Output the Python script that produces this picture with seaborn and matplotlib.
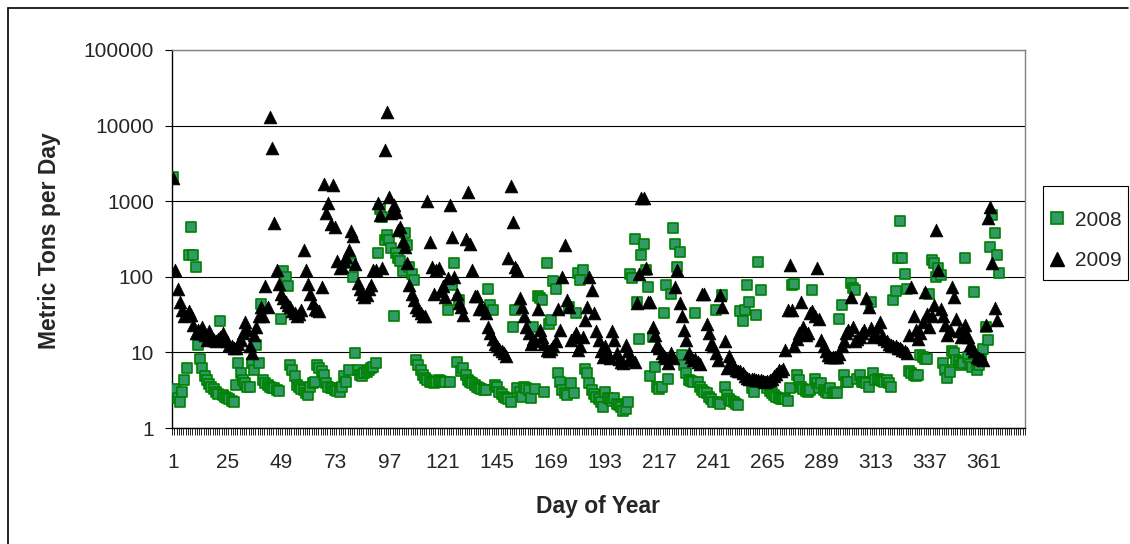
import numpy as np
import pandas as pd
import matplotlib
matplotlib.use("Agg")
import matplotlib.pyplot as plt
from matplotlib.lines import Line2D
from matplotlib.patches import Rectangle
from matplotlib.ticker import FixedLocator, NullFormatter
import seaborn as sns

# ---------------- data (metric tons per day) ----------------
y2008_001_050 = [2100, 3.3, 2.5, 2.2, 3.0, 4.3, 6.2, 195, 460, 195,
                 135, 12.5, 8.3, 6.2, 4.8, 4.3, 3.8, 3.5, 3.3, 3.0,
                 2.8, 26, 2.7, 2.6, 2.5, 2.4, 2.3, 2.2, 3.7, 7.2,
                 5.3, 4.3, 3.9, 3.5, 3.5, 7.2, 5.8, 12.5, 7.2, 44,
                 4.3, 3.9, 3.7, 3.5, 3.4, 3.4, 3.2, 3.1, 28, 120]
y2008_051_100 = [100, 75, 6.8, 5.8, 4.8, 3.7, 3.5, 3.3, 3.2, 2.9,
                 2.7, 3.5, 3.9, 4.0, 6.8, 6.2, 5.6, 5.0, 3.9, 3.5,
                 3.4, 3.4, 3.2, 3.1, 3.0, 3.5, 4.8, 4.1, 5.8, 150,
                 100, 9.7, 5.8, 5.0, 4.8, 5.3, 5.5, 5.8, 6.2, 6.5,
                 7.2, 205, 800, 620, 310, 355, 310, 240, 30, 205]
y2008_101_150 = [175, 160, 120, 375, 265, 135, 110, 90, 7.9, 6.8,
                 5.8, 5.0, 4.6, 4.3, 4.1, 4.0, 3.9, 4.0, 4.3, 4.2,
                 4.1, 4.1, 36, 4.0, 78, 150, 7.5, 50, 5.6, 6.2,
                 5.0, 4.3, 4.1, 3.9, 3.7, 3.5, 3.4, 3.3, 3.2, 3.2,
                 70, 42, 36, 3.7, 3.5, 3.0, 2.8, 2.6, 2.5, 2.4]
y2008_151_200 = [2.2, 22, 36, 3.4, 3.0, 2.6, 3.5, 3.4, 3.2, 2.5,
                 22, 3.3, 55, 52, 50, 3.0, 150, 24, 27, 88,
                 70, 5.3, 4.1, 3.2, 2.9, 2.7, 40, 3.9, 2.9, 33,
                 112, 92, 123, 6.0, 5.3, 3.9, 3.2, 2.8, 2.6, 2.4,
                 2.2, 1.9, 3.0, 2.5, 2.4, 2.3, 2.5, 2.1, 2.0, 1.9]
y2008_201_250 = [1.7, 1.8, 2.2, 110, 95, 320, 47, 15, 195, 275,
                 123, 74, 4.8, 16, 6.5, 3.5, 3.3, 3.5, 33, 78,
                 4.5, 60, 440, 275, 135, 215, 9.2, 6.8, 5.3, 4.3,
                 4.2, 4.1, 33, 4.1, 3.5, 3.2, 3.0, 2.9, 2.6, 2.4,
                 2.2, 36, 2.2, 2.1, 57, 3.5, 2.7, 2.4, 2.3, 2.2]
y2008_251_300 = [2.1, 2.0, 35, 26, 36, 78, 47, 3.4, 3.0, 31,
                 158, 67, 4.0, 3.9, 3.4, 3.1, 2.9, 2.7, 2.6, 2.5,
                 2.4, 2.4, 2.4, 2.3, 3.4, 78, 80, 5.0, 4.3, 3.5,
                 3.3, 3.1, 3.0, 3.2, 67, 4.5, 3.9, 3.4, 3.9, 3.2,
                 3.0, 2.9, 3.4, 2.9, 3.0, 2.9, 28, 42, 5.0, 4.1]
y2008_301_368 = [4.0, 82, 72, 66, 4.5, 5.0, 4.1, 4.0, 3.9, 3.5,
                 46, 5.3, 4.3, 4.5, 4.3, 4.2, 4.0, 4.3, 3.9, 3.5,
                 50, 64, 175, 540, 175, 108, 68, 5.6, 5.3, 5.0,
                 4.8, 5.0, 9.2, 8.8, 8.3, 8.3, 60, 165, 150, 100,
                 130, 105, 7.2, 5.8, 4.6, 5.5, 10.3, 9.7, 7.9, 7.5,
                 6.8, 7.2, 178, 8.8, 7.0, 6.5, 63, 5.8, 6.8, 8.8,
                 11, 22, 14.6, 250, 660, 380, 195, 112]

y2009_001_050 = [2000, 123, 70, 47, 36, 30, 31, 35, 31, 23,
                 18, 20, 18, 22, 17, 14.6, 19, 16, 14.6, 14,
                 15, 16, 18, 15, 14, 12.5, 12, 11.3, 11.3, 13,
                 14.6, 18, 25, 20, 12, 9.7, 17, 22, 30, 40,
                 30, 75, 40, 13000, 5000, 520, 123, 80, 60, 52]
y2009_051_100 = [47, 42, 40, 35, 33, 30, 32, 36, 225, 123,
                 80, 60, 45, 38, 36, 35, 74, 1700, 700, 950,
                 500, 1650, 450, 160, 130, 135, 160, 185, 225, 400,
                 350, 147, 82, 70, 60, 54, 57, 70, 78, 123,
                 123, 940, 660, 130, 4800, 15000, 1150, 700, 900, 720]
y2009_101_150 = [420, 460, 300, 250, 150, 78, 60, 50, 40, 36,
                 33, 30, 30, 1000, 290, 135, 60, 123, 130, 65,
                 75, 54, 95, 890, 340, 100, 60, 45, 40, 31,
                 320, 1330, 275, 123, 55, 55, 38, 40, 38, 33,
                 22, 18, 15, 13, 12, 11, 10.5, 9.7, 9.0, 180]
y2009_151_200 = [1570, 530, 135, 123, 52, 40, 30, 22, 18, 13,
                 15, 14, 38, 20, 16, 13, 10.7, 10.3, 11, 12,
                 14, 38, 20, 100, 260, 50, 40, 14.6, 16, 18,
                 10.7, 12, 16, 27, 40, 100, 67, 33, 19, 14.6,
                 10.3, 8.8, 12, 9.5, 8.5, 19, 14.6, 9.7, 8.3, 7.5]
y2009_201_250 = [7.2, 12.5, 10.3, 8.8, 7.9, 7.5, 45, 110, 1100, 1100,
                 130, 47, 47, 22, 17, 12.5, 11.3, 9.7, 9.0, 8.5,
                 7.2, 9.7, 8.5, 74, 123, 45, 30, 20, 14.6, 9.7,
                 8.8, 7.9, 8.3, 7.5, 7.0, 60, 60, 24, 18, 13,
                 12, 9.7, 7.9, 57, 40, 14, 6.3, 9.0, 7.5, 6.5]
y2009_251_300 = [5.9, 5.7, 5.6, 5.3, 4.8, 4.6, 4.5, 4.5, 4.5, 4.3,
                 4.3, 4.3, 4.2, 4.1, 4.2, 4.3, 4.5, 4.8, 5.2, 5.9,
                 5.6, 6.0, 10.7, 36, 143, 36, 12, 15, 18, 46,
                 22, 17, 18, 33, 35, 30, 130, 28, 14.6, 12,
                 10.3, 9.2, 8.8, 8.8, 8.8, 8.8, 9.5, 12, 14, 18]
y2009_301_367 = [20, 54, 22, 14, 15, 16, 18, 20, 52, 40,
                 21, 16, 18, 22, 25, 16, 15, 14, 13, 12.5,
                 12.2, 12, 11.5, 11.3, 10.8, 10.3, 9.7, 17, 74, 30,
                 20, 15, 18, 25, 63, 32, 22, 30, 42, 415,
                 123, 38, 30, 23, 17, 20, 74, 54, 28, 19,
                 16, 20, 23, 16, 12.5, 11.3, 10.3, 8.8, 8.5, 8.3,
                 7.9, 23, 600, 850, 150, 39, 27]

series_names = ["2008", "2009"]
x_tick_labels = [str(d) for d in range(1, 362, 24)]
y_tick_values = [1, 10, 100, 1000, 10000, 100000]

vals2008 = (y2008_001_050 + y2008_051_100 + y2008_101_150 + y2008_151_200
            + y2008_201_250 + y2008_251_300 + y2008_301_368)
vals2009 = (y2009_001_050 + y2009_051_100 + y2009_101_150 + y2009_151_200
            + y2009_201_250 + y2009_251_300 + y2009_301_367)

df08 = pd.DataFrame({"day": np.arange(1, len(vals2008) + 1), "tons": vals2008, "year": "2008"})
df09 = pd.DataFrame({"day": np.arange(1, len(vals2009) + 1), "tons": vals2009, "year": "2009"})

# ---------------- figure ----------------
sns.set_theme(style="white")
plt.rcParams["font.family"] = ["Liberation Sans", "DejaVu Sans"]

W, H = 1130, 544
fig = plt.figure(figsize=(W / 100, H / 100), dpi=100)
fig.patch.set_facecolor("white")
ax = fig.add_axes([172 / W, 1 - 428 / H, (1025 - 172) / W, (428 - 50) / H])

sns.scatterplot(data=df08, x="day", y="tons", ax=ax, marker="s", s=48,
                color="#339966", edgecolor="#008000", linewidth=1.2,
                legend=False, zorder=3)
sns.scatterplot(data=df09, x="day", y="tons", ax=ax, marker="^", s=85,
                color="black", edgecolor="black", linewidth=0.5,
                legend=False, zorder=4)

ax.set_yscale("log")
ax.set_ylim(1, 100000)
ax.set_xlim(0.5, 379.5)

ax.yaxis.set_major_locator(FixedLocator(y_tick_values))
ax.yaxis.set_minor_locator(FixedLocator([]))
ax.set_yticklabels([str(v) for v in y_tick_values])
ax.tick_params(axis="y", which="major", direction="out", length=5, width=0.8,
               color="black", labelsize=15, pad=8, left=True)

ax.xaxis.set_major_locator(FixedLocator([int(t) for t in x_tick_labels]))
ax.set_xticklabels(x_tick_labels)
ax.xaxis.set_minor_locator(FixedLocator(np.arange(0.5, 380, 1.0)))
ax.xaxis.set_minor_formatter(NullFormatter())
ax.tick_params(axis="x", which="major", length=0, labelsize=15, pad=18)
ax.tick_params(axis="x", which="minor", direction="out", length=5, width=0.6,
               color="black", bottom=True)

ax.grid(axis="y", which="major", color="black", linewidth=0.8)
ax.set_axisbelow(True)
for side in ["left", "bottom"]:
    ax.spines[side].set_color("black")
    ax.spines[side].set_linewidth(1.0)
for side in ["top", "right"]:
    ax.spines[side].set_color("#808080")
    ax.spines[side].set_linewidth(1.0)

ax.set_xlabel("")
ax.set_ylabel("")
fig.text(598 / W, 1 - 507 / H, "Day of Year", fontsize=16.5, fontweight="bold",
         ha="center", va="center")
fig.text(50 / W, 1 - 241 / H, "Metric Tons per Day", fontsize=16.5, fontweight="bold",
         ha="center", va="center", rotation=90)

# legend: entries from the library, box drawn as a rectangle
handles = [
    Line2D([], [], linestyle="none", marker="s", markersize=8,
           markerfacecolor="#339966", markeredgecolor="#008000", markeredgewidth=1.2),
    Line2D([], [], linestyle="none", marker="^", markersize=10,
           markerfacecolor="black", markeredgecolor="black"),
]
leg = fig.legend(handles, series_names, loc="center left",
                 bbox_to_anchor=(1049 / W, 1 - 240.5 / H),
                 frameon=False, fontsize=15,
                 handlelength=0.8, handletextpad=0.45, labelspacing=1.05,
                 borderpad=0, borderaxespad=0)
fig.add_artist(Rectangle((1043 / W, 1 - 280 / H), 85 / W, 94 / H,
                         transform=fig.transFigure, fill=False,
                         edgecolor="black", linewidth=0.8))

# outer chart border
fig.add_artist(Line2D([8 / W, 8 / W], [0, 1 - 8 / H], transform=fig.transFigure,
                      color="black", linewidth=1.2))
fig.add_artist(Line2D([8 / W, 1 - 2 / W], [1 - 8 / H, 1 - 8 / H], transform=fig.transFigure,
                      color="black", linewidth=1.2))

fig.savefig("out.png", dpi=100)
